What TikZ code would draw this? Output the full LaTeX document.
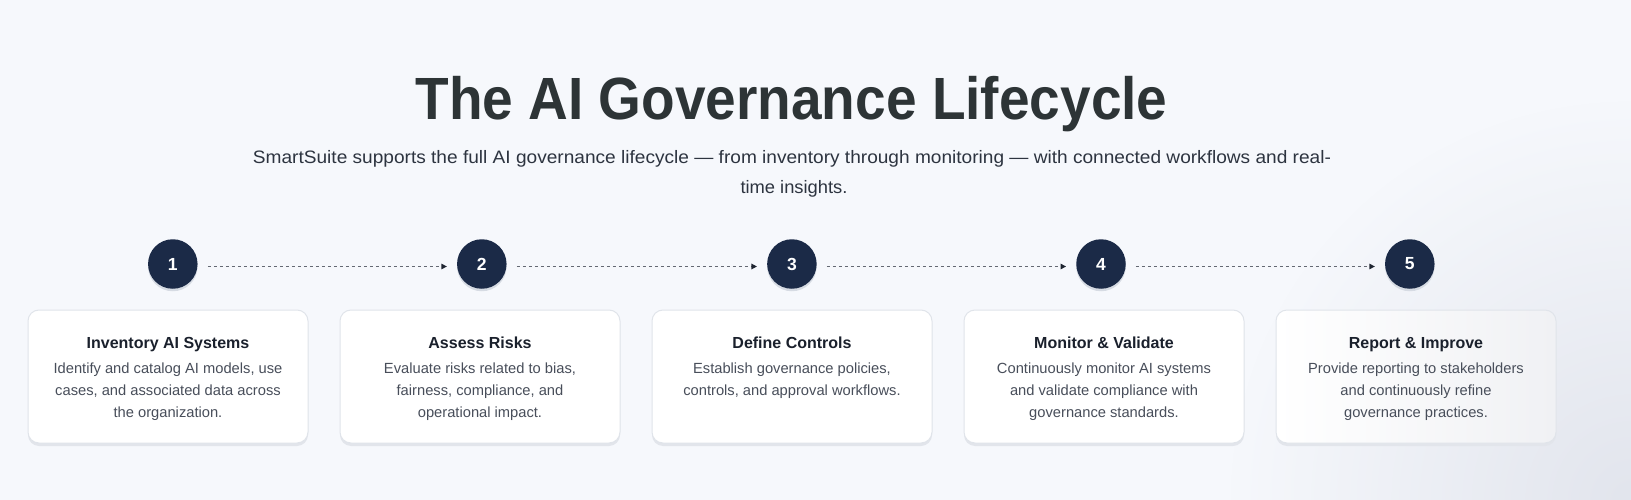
\documentclass[tikz,border=0pt]{standalone}
\usepackage{fontspec}
\setmainfont{Liberation Sans}
\usetikzlibrary{arrows.meta,fadings}
\definecolor{bg}{RGB}{246,248,252}
\definecolor{titlec}{RGB}{45,52,54}
\definecolor{subc}{RGB}{45,52,64}
\definecolor{navy}{RGB}{27,42,71}
\definecolor{cardborder}{RGB}{224,228,234}
\definecolor{cardshadow}{RGB}{226,229,235}
\definecolor{circshadow}{RGB}{214,219,227}
\definecolor{ctitlec}{RGB}{26,32,44}
\definecolor{cbodyc}{RGB}{72,78,90}
\definecolor{dashc}{RGB}{100,105,115}
\definecolor{tipc}{RGB}{30,36,48}
\definecolor{cornerc}{RGB}{226,229,237}
\definecolor{cardgray}{RGB}{240,241,244}
\tikzfading[name=cornerfade, inner color=transparent!0, outer color=transparent!100]
\begin{document}
\begin{tikzpicture}[x=1pt,y=-1pt,
  card/.style={draw=cardborder, line width=1pt, fill=white, rounded corners=11pt,
    minimum width=280pt, minimum height=133pt, inner sep=0pt,
    preaction={fill=cardshadow, transform canvas={yshift=-3pt}}},
  stepcirc/.style={circle, fill=navy, text=white, minimum size=49.5pt, inner sep=0pt,
    font=\fontsize{17.5}{20}\selectfont\bfseries,
    preaction={fill=circshadow, transform canvas={yshift=-2.5pt}}},
  flow/.style={draw=dashc, line width=1.3pt, dash pattern=on 3pt off 3pt,
    -{Triangle[length=5.5pt,width=5.5pt,color=tipc]}},
  ctitle/.style={anchor=base, inner sep=0pt, text=ctitlec, font=\fontsize{16}{19}\selectfont\bfseries},
  cbody/.style={anchor=base, inner sep=0pt, text=cbodyc, font=\fontsize{14.7}{18}\selectfont},
]
\useasboundingbox (0,0) rectangle (1631,500);
\fill[bg] (0,0) rectangle (1631,500);

% soft corner shading of the background
\begin{scope}
\clip (0,0) rectangle (1631,500);
\fill[cornerc, path fading=cornerfade] (1631,500) circle (400);
\end{scope}

% title and subtitle
\node[anchor=base, inner sep=0pt, text=titlec, font=\fontsize{59.6}{70}\selectfont\bfseries] (title) at (791.5,119.3)
  {\resizebox{752pt}{\height}{The AI Governance Lifecycle}};
\node[anchor=base, inner sep=0pt, text=subc, font=\fontsize{18}{22}\selectfont] (sub1) at (792,163.3)
  {\resizebox{1078pt}{\height}{SmartSuite supports the full AI governance lifecycle — from inventory through monitoring — with connected workflows and real-}};
\node[anchor=base, inner sep=0pt, text=subc, font=\fontsize{18}{22}\selectfont] (sub2) at (794,193.3)
  {\resizebox{107pt}{\height}{time insights.}};

% step circles
\node[stepcirc] (c1) at (172.8,264) {1};
\node[stepcirc] (c2) at (481.8,264) {2};
\node[stepcirc] (c3) at (791.9,264) {3};
\node[stepcirc] (c4) at (1101,264) {4};
\node[stepcirc] (c5) at (1409.8,264) {5};

\draw[flow] ([xshift=10pt,yshift=-2.5pt]c1.east) -- ([xshift=-10pt,yshift=-2.5pt]c2.west);
\draw[flow] ([xshift=10pt,yshift=-2.5pt]c2.east) -- ([xshift=-10pt,yshift=-2.5pt]c3.west);
\draw[flow] ([xshift=10pt,yshift=-2.5pt]c3.east) -- ([xshift=-10pt,yshift=-2.5pt]c4.west);
\draw[flow] ([xshift=10pt,yshift=-2.5pt]c4.east) -- ([xshift=-10pt,yshift=-2.5pt]c5.west);

% cards
\node[card] (k1) at (168,376.5) {};
\node[card] (k2) at (480,376.5) {};
\node[card] (k3) at (792,376.5) {};
\node[card] (k4) at (1104,376.5) {};
\node[card, shading angle=0, left color=white, middle color=white, right color=cardgray] (k5) at (1416,376.5) {};

\node[ctitle] (t1) at (168,348.3) {Inventory AI Systems};
\node[cbody] (b1a) at (168,373) {Identify and catalog AI models, use};
\node[cbody] (b1b) at (168,395) {cases, and associated data across};
\node[cbody] (b1c) at (168,417) {the organization.};

\node[ctitle] (t2) at (480,348.3) {Assess Risks};
\node[cbody] (b2a) at (480,373) {Evaluate risks related to bias,};
\node[cbody] (b2b) at (480,395) {fairness, compliance, and};
\node[cbody] (b2c) at (480,417) {operational impact.};

\node[ctitle] (t3) at (792,348.3) {Define Controls};
\node[cbody] (b3a) at (792,373) {Establish governance policies,};
\node[cbody] (b3b) at (792,395) {controls, and approval workflows.};

\node[ctitle] (t4) at (1104,348.3) {Monitor \& Validate};
\node[cbody] (b4a) at (1104,373) {Continuously monitor AI systems};
\node[cbody] (b4b) at (1104,395) {and validate compliance with};
\node[cbody] (b4c) at (1104,417) {governance standards.};

\node[ctitle] (t5) at (1416,348.3) {Report \& Improve};
\node[cbody] (b5a) at (1416,373) {Provide reporting to stakeholders};
\node[cbody] (b5b) at (1416,395) {and continuously refine};
\node[cbody] (b5c) at (1416,417) {governance practices.};
\end{tikzpicture}
\end{document}
